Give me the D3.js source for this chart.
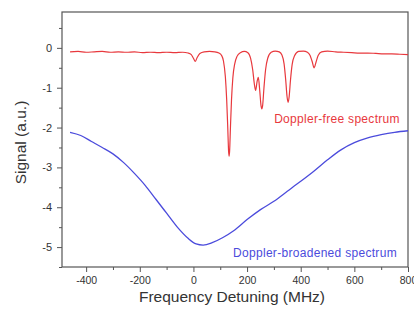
<!DOCTYPE html>
<html>
<head>
<meta charset="utf-8">
<script src="https://cdn.jsdelivr.net/npm/d3@7"></script>
<style>
  body { margin: 0; background: #fff; }
  svg { display: block; font-family: "Liberation Sans", Arial, sans-serif; }
</style>
</head>
<body>
<div id="ChartDiv"></div>
<script>
// Doppler-free (red) curve, [MHz, signal]
const freeSpectrum = [
    [-460, -0.10], [-430, -0.09], [-400, -0.11], [-370, -0.10], [-340, -0.09],
    [-310, -0.11], [-280, -0.10], [-250, -0.11], [-220, -0.10], [-190, -0.12],
    [-160, -0.11], [-130, -0.12], [-100, -0.11], [-70, -0.12], [-40, -0.11],
    [-20, -0.13], [-8, -0.17], [0, -0.26], [7, -0.34], [14, -0.24],
    [24, -0.14], [40, -0.10], [60, -0.09], [80, -0.10], [95, -0.13],
    [105, -0.19], [112, -0.33], [119, -0.72], [124, -1.3], [128, -2.0],
    [131, -2.58], [133, -2.72], [135, -2.58], [138, -2.0], [142, -1.3],
    [147, -0.75], [154, -0.40], [162, -0.22], [175, -0.12], [190, -0.09],
    [203, -0.12], [213, -0.26], [221, -0.55], [227, -0.90], [232, -1.07],
    [237, -0.86], [242, -0.74], [247, -1.05], [252, -1.45], [255, -1.53],
    [258, -1.45], [263, -1.0], [269, -0.55], [277, -0.26], [290, -0.11],
    [305, -0.08], [320, -0.10], [330, -0.18], [338, -0.40], [344, -0.80],
    [349, -1.22], [353, -1.37], [357, -1.22], [362, -0.80], [368, -0.42],
    [377, -0.20], [392, -0.09], [410, -0.08], [425, -0.11], [435, -0.19],
    [443, -0.35], [450, -0.50], [457, -0.36], [465, -0.19], [478, -0.10],
    [500, -0.08], [530, -0.10], [560, -0.11], [590, -0.12], [620, -0.13],
    [650, -0.13], [680, -0.14], [710, -0.15], [740, -0.15], [770, -0.16],
    [800, -0.17]
];

// Doppler-broadened (blue) curve, [MHz, signal]
const broadSpectrum = [
    [-460, -2.12], [-420, -2.20], [-380, -2.35], [-340, -2.50], [-300, -2.66],
    [-260, -2.88], [-220, -3.15], [-180, -3.45], [-140, -3.80], [-100, -4.15],
    [-60, -4.50], [-20, -4.78], [10, -4.92], [36, -4.95], [70, -4.89],
    [110, -4.76], [150, -4.59], [200, -4.31], [250, -4.06], [300, -3.85],
    [350, -3.60], [400, -3.35], [450, -3.09], [500, -2.81], [550, -2.56],
    [600, -2.38], [650, -2.26], [700, -2.18], [750, -2.12], [800, -2.08]
];

const xTicks = [-400, -200, 0, 200, 400, 600, 800];
const xMinorTicks = [-300, -100, 100, 300, 500, 700];
const yTicks = [-5, -4, -3, -2, -1, 0];
const yMinorTicks = [-5.5, -4.5, -3.5, -2.5, -1.5, -0.5, 0.5];

function createChart() {
    const width = 414, height = 314;
    const margin = {top: 12, right: 6, bottom: 47, left: 62};

    const svg = d3.select("#ChartDiv").append("svg")
        .attr("width", width)
        .attr("height", height);

    const x = d3.scaleLinear().domain([-490, 800]).range([margin.left, width - margin.right]);
    const y = d3.scaleLinear().domain([-5.5, 0.9]).range([height - margin.bottom, margin.top]);

    const axisColor = "#555";
    const fmt = d => String(d);

    // minor ticks first
    svg.append("g")
        .attr("transform", `translate(0,${height - margin.bottom})`)
        .call(d3.axisBottom(x).tickValues(xMinorTicks).tickSize(3).tickFormat(""))
        .call(g => g.select(".domain").remove());
    svg.append("g")
        .attr("transform", `translate(${margin.left},0)`)
        .call(d3.axisLeft(y).tickValues(yMinorTicks).tickSize(3).tickFormat(""))
        .call(g => g.select(".domain").remove());

    svg.append("g")
        .attr("class", "xaxis")
        .attr("transform", `translate(0,${height - margin.bottom})`)
        .call(d3.axisBottom(x).tickValues(xTicks).tickSize(5).tickPadding(5).tickFormat(fmt))
        .call(g => g.select(".domain").remove())
        .call(g => g.selectAll(".tick text").style("font-size", "10.5px"));

    svg.append("g")
        .attr("class", "yaxis")
        .attr("transform", `translate(${margin.left},0)`)
        .call(d3.axisLeft(y).tickValues(yTicks).tickSize(5).tickPadding(5).tickFormat(fmt))
        .call(g => g.select(".domain").remove())
        .call(g => g.selectAll(".tick text").style("font-size", "11px"));

    svg.selectAll(".tick line").attr("stroke", axisColor);
    svg.selectAll(".tick text")
        .attr("fill", "#333")
        .style("font-family", "'Liberation Sans', Arial, sans-serif");

    // frame
    svg.append("rect")
        .attr("x", margin.left)
        .attr("y", margin.top)
        .attr("width", width - margin.right - margin.left)
        .attr("height", height - margin.bottom - margin.top)
        .attr("fill", "none")
        .attr("stroke", axisColor)
        .attr("stroke-width", 1.2);

    const line = d3.line()
        .x(d => x(d[0]))
        .y(d => y(d[1]))
        .curve(d3.curveMonotoneX);

    svg.append("path")
        .datum(broadSpectrum)
        .attr("d", line)
        .attr("fill", "none")
        .attr("stroke", "#4b4bdc")
        .attr("stroke-width", 1.3);

    svg.append("path")
        .datum(freeSpectrum)
        .attr("d", line)
        .attr("fill", "none")
        .attr("stroke", "#e8383d")
        .attr("stroke-width", 1.2);

    svg.append("text")
        .attr("x", 337)
        .attr("y", 123)
        .attr("text-anchor", "middle")
        .attr("fill", "#e8383d")
        .style("font-size", "12px")
        .style("letter-spacing", "0.3px")
        .text("Doppler-free spectrum");

    svg.append("text")
        .attr("x", 315)
        .attr("y", 257)
        .attr("text-anchor", "middle")
        .attr("fill", "#4b4bdc")
        .style("font-size", "12px")
        .style("letter-spacing", "0.3px")
        .text("Doppler-broadened spectrum");

    svg.append("text")
        .attr("x", 232)
        .attr("y", 302)
        .attr("text-anchor", "middle")
        .attr("fill", "#333")
        .style("font-size", "15.5px")
        .text("Frequency Detuning (MHz)");

    svg.append("text")
        .attr("transform", `translate(26,${(margin.top + height - margin.bottom) / 2 + 3}) rotate(-90)`)
        .attr("text-anchor", "middle")
        .attr("fill", "#333")
        .style("font-size", "15.5px")
        .text("Signal (a.u.)");
}

createChart();
</script>
</body>
</html>
